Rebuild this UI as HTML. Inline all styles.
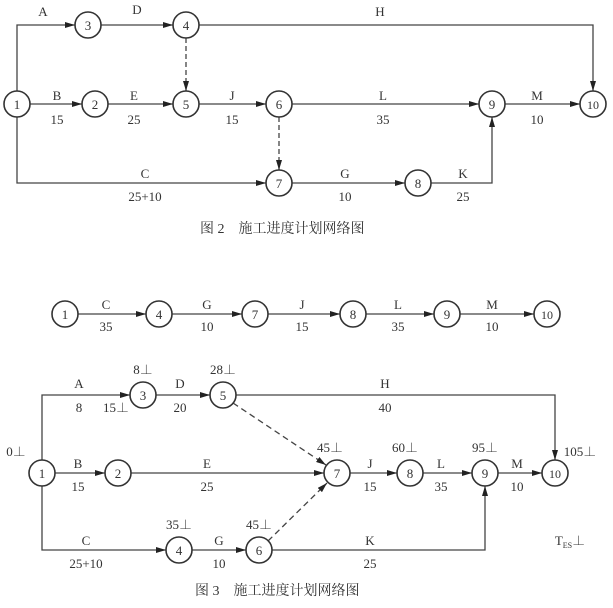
<!DOCTYPE html>
<html><head><meta charset="utf-8"><style>
html,body{margin:0;padding:0;background:#fff;}
svg{display:block;}
text{font-family:"Liberation Serif","Noto Serif CJK SC",serif;fill:#333;font-size:13px;text-anchor:middle;}
.n{font-size:13px;}
.cap{font-family:"Liberation Serif","Noto Serif CJK SC",serif;font-size:14px;text-anchor:start;}
</style></head><body>
<svg width="613" height="608" viewBox="0 0 613 608">
<defs><marker id="a" markerWidth="10" markerHeight="6" refX="10" refY="3" orient="auto" markerUnits="userSpaceOnUse"><path d="M0,0 L10,3 L0,6z" fill="#222"/></marker></defs>
<g stroke="#444" stroke-width="1.3" fill="none">
<!-- Fig 2 -->
<polyline points="17,91 17,25 75,25" marker-end="url(#a)"/>
<line x1="101" y1="25" x2="173" y2="25" marker-end="url(#a)"/>
<polyline points="199,25 593,25 593,91" marker-end="url(#a)"/>
<line x1="186" y1="38" x2="186" y2="91" stroke-dasharray="5,3" marker-end="url(#a)"/>
<line x1="30" y1="104" x2="82" y2="104" marker-end="url(#a)"/>
<line x1="108" y1="104" x2="173" y2="104" marker-end="url(#a)"/>
<line x1="199" y1="104" x2="266" y2="104" marker-end="url(#a)"/>
<line x1="292" y1="104" x2="479" y2="104" marker-end="url(#a)"/>
<line x1="505" y1="104" x2="580" y2="104" marker-end="url(#a)"/>
<line x1="279" y1="117" x2="279" y2="170" stroke-dasharray="5,3" marker-end="url(#a)"/>
<polyline points="17,117 17,183 266,183" marker-end="url(#a)"/>
<line x1="292" y1="183" x2="405" y2="183" marker-end="url(#a)"/>
<polyline points="431,183 492,183 492,117" marker-end="url(#a)"/>
<!-- chain -->
<line x1="78" y1="314" x2="146" y2="314" marker-end="url(#a)"/>
<line x1="172" y1="314" x2="242" y2="314" marker-end="url(#a)"/>
<line x1="268" y1="314" x2="340" y2="314" marker-end="url(#a)"/>
<line x1="366" y1="314" x2="434" y2="314" marker-end="url(#a)"/>
<line x1="460" y1="314" x2="534" y2="314" marker-end="url(#a)"/>
<!-- Fig 3 -->
<polyline points="42,460 42,395 130,395" marker-end="url(#a)"/>
<line x1="156" y1="395" x2="210" y2="395" marker-end="url(#a)"/>
<polyline points="236,395 555,395 555,460" marker-end="url(#a)"/>
<line x1="55" y1="473" x2="105" y2="473" marker-end="url(#a)"/>
<line x1="131" y1="473" x2="324" y2="473" marker-end="url(#a)"/>
<line x1="350" y1="473" x2="397" y2="473" marker-end="url(#a)"/>
<line x1="423" y1="473" x2="472" y2="473" marker-end="url(#a)"/>
<line x1="498" y1="473" x2="542" y2="473" marker-end="url(#a)"/>
<polyline points="42,486 42,550 166,550" marker-end="url(#a)"/>
<line x1="192" y1="550" x2="246" y2="550" marker-end="url(#a)"/>
<polyline points="272,550 485,550 485,486" marker-end="url(#a)"/>
<line x1="233" y1="403" x2="326" y2="465" stroke-dasharray="6,4" marker-end="url(#a)"/>
<line x1="268" y1="541" x2="327" y2="483" stroke-dasharray="6,4" marker-end="url(#a)"/>
</g>
<g stroke="#333" stroke-width="1.6" fill="#fff">
<circle cx="17" cy="104" r="13"/><circle cx="88" cy="25" r="13"/><circle cx="186" cy="25" r="13"/>
<circle cx="95" cy="104" r="13"/><circle cx="186" cy="104" r="13"/><circle cx="279" cy="104" r="13"/>
<circle cx="492" cy="104" r="13"/><circle cx="593" cy="104" r="13"/><circle cx="279" cy="183" r="13"/><circle cx="418" cy="183" r="13"/>
<circle cx="65" cy="314" r="13"/><circle cx="159" cy="314" r="13"/><circle cx="255" cy="314" r="13"/><circle cx="353" cy="314" r="13"/><circle cx="447" cy="314" r="13"/><circle cx="547" cy="314" r="13"/>
<circle cx="42" cy="473" r="13"/><circle cx="143" cy="395" r="13"/><circle cx="223" cy="395" r="13"/><circle cx="118" cy="473" r="13"/>
<circle cx="337" cy="473" r="13"/><circle cx="410" cy="473" r="13"/><circle cx="485" cy="473" r="13"/><circle cx="555" cy="473" r="13"/>
<circle cx="179" cy="550" r="13"/><circle cx="259" cy="550" r="13"/>
</g>
<g class="n">
<text x="17" y="109">1</text><text x="88" y="30">3</text><text x="186" y="30">4</text><text x="95" y="109">2</text><text x="186" y="109">5</text><text x="279" y="109">6</text><text x="492" y="109">9</text><text x="593" y="109" style="font-size:12px">10</text><text x="279" y="188">7</text><text x="418" y="188">8</text>
<text x="65" y="319">1</text><text x="159" y="319">4</text><text x="255" y="319">7</text><text x="353" y="319">8</text><text x="447" y="319">9</text><text x="547" y="319" style="font-size:12px">10</text>
<text x="42" y="478">1</text><text x="143" y="400">3</text><text x="223" y="400">5</text><text x="118" y="478">2</text><text x="337" y="478">7</text><text x="410" y="478">8</text><text x="485" y="478">9</text><text x="555" y="478" style="font-size:12px">10</text><text x="179" y="555">4</text><text x="259" y="555">6</text>
</g>
<g>
<text x="43" y="16">A</text><text x="137" y="14">D</text><text x="380" y="16">H</text>
<text x="57" y="100">B</text><text x="57" y="124">15</text><text x="134" y="100">E</text><text x="134" y="124">25</text>
<text x="232" y="100">J</text><text x="232" y="124">15</text><text x="383" y="100">L</text><text x="383" y="124">35</text>
<text x="537" y="100">M</text><text x="537" y="124">10</text>
<text x="145" y="178">C</text><text x="145" y="201">25+10</text>
<text x="345" y="178">G</text><text x="345" y="201">10</text><text x="463" y="178">K</text><text x="463" y="201">25</text>
<text x="106" y="309">C</text><text x="106" y="331">35</text><text x="207" y="309">G</text><text x="207" y="331">10</text>
<text x="302" y="309">J</text><text x="302" y="331">15</text><text x="398" y="309">L</text><text x="398" y="331">35</text>
<text x="492" y="309">M</text><text x="492" y="331">10</text>
<text x="79" y="388">A</text><text x="79" y="412">8</text><text x="116" y="412">15⊥</text>
<text x="180" y="388">D</text><text x="180" y="412">20</text>
<text x="143" y="374">8⊥</text><text x="223" y="374">28⊥</text>
<text x="385" y="388">H</text><text x="385" y="412">40</text>
<text x="16" y="456">0⊥</text>
<text x="78" y="468">B</text><text x="78" y="491">15</text><text x="207" y="468">E</text><text x="207" y="491">25</text>
<text x="370" y="468">J</text><text x="370" y="491">15</text><text x="441" y="468">L</text><text x="441" y="491">35</text>
<text x="517" y="468">M</text><text x="517" y="491">10</text>
<text x="330" y="452">45⊥</text><text x="405" y="452">60⊥</text><text x="485" y="452">95⊥</text><text x="580" y="456">105⊥</text>
<text x="86" y="545">C</text><text x="86" y="568">25+10</text><text x="219" y="545">G</text><text x="219" y="568">10</text>
<text x="179" y="529">35⊥</text><text x="259" y="529">45⊥</text>
<text x="370" y="545">K</text><text x="370" y="568">25</text>
<text x="570" y="545">T<tspan font-size="8" dy="3">ES</tspan><tspan dy="-3">⊥</tspan></text>
</g>
<text class="cap" x="200" y="233">图 2　施工进度计划网络图</text>
<text class="cap" x="195" y="595">图 3　施工进度计划网络图</text>
</svg>
</body></html>
